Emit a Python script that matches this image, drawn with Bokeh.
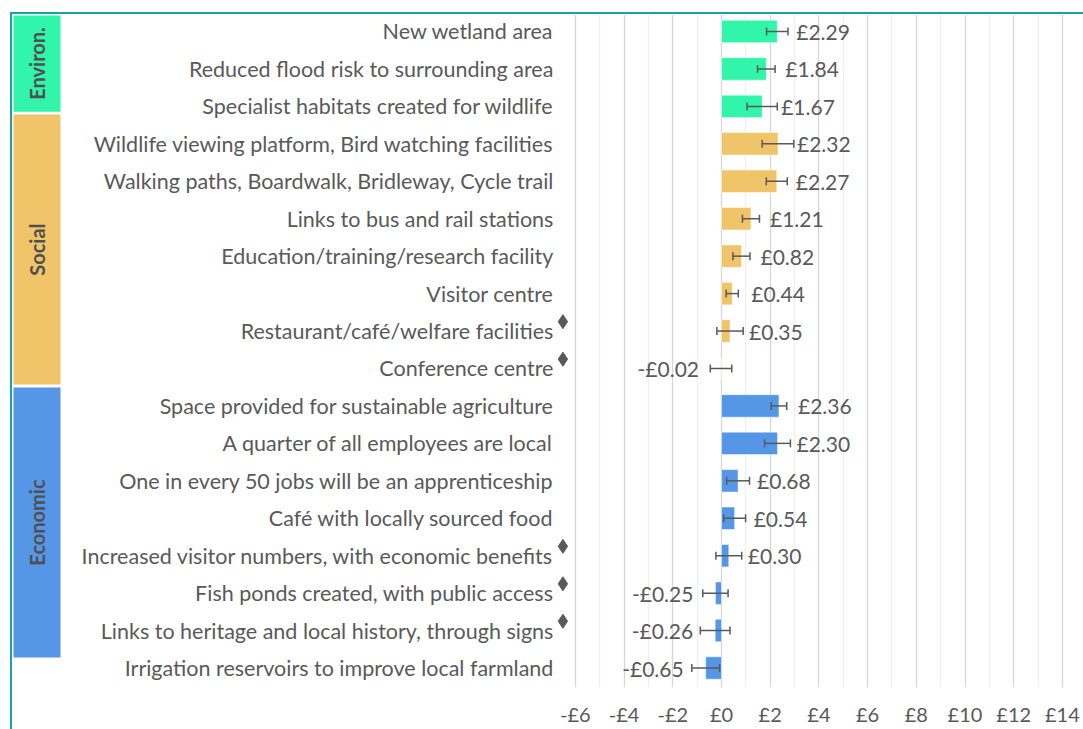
import numpy as np
from bokeh.plotting import figure
from bokeh.models import ColumnDataSource, Range1d, FixedTicker, Whisker, TeeHead, CDSView, BooleanFilter
from bokeh.layouts import column
from bokeh.core.properties import value
from bokeh.embed import file_html
from bokeh.resources import INLINE

# ---------------- data ----------------
categories = [
    "New wetland area",
    "Reduced flood risk to surrounding area",
    "Specialist habitats created for wildlife",
    "Wildlife viewing platform, Bird watching facilities",
    "Walking paths, Boardwalk, Bridleway, Cycle trail",
    "Links to bus and rail stations",
    "Education/training/research facility",
    "Visitor centre",
    "Restaurant/café/welfare facilities",
    "Conference centre",
    "Space provided for sustainable agriculture",
    "A quarter of all employees are local",
    "One in every 50 jobs will be an apprenticeship",
    "Café with locally sourced food",
    "Increased visitor numbers, with economic benefits",
    "Fish ponds created, with public access",
    "Links to heritage and local history, through signs",
    "Irrigation reservoirs to improve local farmland",
]
row_group = ["Environ."] * 3 + ["Social"] * 7 + ["Economic"] * 8
values = [2.29, 1.84, 1.67, 2.32, 2.27, 1.21, 0.82, 0.44, 0.35, -0.02,
          2.36, 2.30, 0.68, 0.54, 0.30, -0.25, -0.26, -0.65]
errors = [0.44, 0.36, 0.62, 0.65, 0.43, 0.35, 0.35, 0.25, 0.54, 0.44,
          0.32, 0.53, 0.47, 0.45, 0.53, 0.52, 0.61, 0.57]
flagged = [False, False, False, False, False, False, False, False, True, True,
           False, False, False, False, True, True, True, False]

group_names = ["Environ.", "Social", "Economic"]
group_colors = ["#30f5aa", "#f0c468", "#5596e6"]
# extent of each group band, in row units
group_band_start = [-0.43, 2.22, 9.51]
group_band_end = [2.14, 9.43, 16.72]

tick_values = [-6, -4, -2, 0, 2, 4, 6, 8, 10, 12, 14]
tick_labels = ["-£6", "-£4", "-£2", "£0", "£2", "£4", "£6", "£8", "£10", "£12", "£14"]

# ---------------- layout constants ----------------
PX_X = 24.35          # pixels per £1
X0 = 721              # page x of £0
X_LEFT = -6           # first grid line
FONT = "Lato"
GREY = "#595959"
FIG_X, FIG_Y = 12, 14
FIG_W, FIG_H = 1071, 715

n = len(categories)
rows = list(range(n))
color_of = dict(zip(group_names, group_colors))

src = ColumnDataSource(dict(
    y=rows,
    cat=categories,
    value=values,
    lo=[v - e for v, e in zip(values, errors)],
    hi=[v + e for v, e in zip(values, errors)],
    color=[color_of[g] for g in row_group],
    label=[("-£%.2f" % abs(v)) if v < 0 else ("£%.2f" % v) for v in values],
))

p = figure(width=FIG_W, height=FIG_H,
           x_range=Range1d(-(X0 - FIG_X) / PX_X, (FIG_X + FIG_W - X0) / PX_X),
           y_range=Range1d(17.52, -0.454),
           y_axis_location=None,
           toolbar_location=None, output_backend="svg",
           min_border_left=0, min_border_right=0, min_border_top=0, min_border_bottom=42)
p.outline_line_color = None
p.background_fill_color = "white"
p.border_fill_color = "white"

# grid
p.xaxis.ticker = FixedTicker(ticks=tick_values, minor_ticks=list(range(-5, 16, 2)))
p.xgrid.grid_line_color = "#d6d6d6"
p.xgrid.grid_line_width = 1.3
p.xgrid.minor_grid_line_color = "#efefef"
p.xgrid.minor_grid_line_width = 1.3
p.ygrid.grid_line_color = None

# x axis
p.xaxis.major_label_overrides = dict(zip(tick_values, tick_labels))
p.xaxis.axis_line_color = None
p.xaxis.major_tick_line_color = None
p.xaxis.minor_tick_line_color = None
p.xaxis.major_label_standoff = 8
p.xaxis.major_label_text_font = FONT
p.xaxis.major_label_text_font_size = "20px"
p.xaxis.major_label_text_color = GREY

# bars
p.hbar(y="y", left=0, right="value", height=0.6, fill_color="color",
       line_color="white", line_alpha=0.5, line_width=1, source=src)

# error bars
head = dict(size=8, line_color=GREY, line_width=1.5)
p.add_layout(Whisker(source=src, base="y", lower="lo", upper="hi", dimension="width",
                     line_color=GREY, line_width=1.5, level="overlay",
                     upper_head=TeeHead(**head), lower_head=TeeHead(**head)))

# value labels
pos = [v >= 0 for v in values]
neg = [v < 0 for v in values]
vtxt = dict(text_font=value(FONT), text_font_size="21px", text_color=GREY, text_baseline="middle")
p.text(x="value", y="y", text="label", source=src, view=CDSView(filter=BooleanFilter(pos)),
       text_align="left", x_offset=19, **vtxt)
p.text(x="value", y="y", text="label", source=src, view=CDSView(filter=BooleanFilter(neg)),
       text_align="right", x_offset=-22, **vtxt)

# category labels
p.text(x=X_LEFT, y="y", text="cat", source=src, text_align="right", x_offset=-22,
       text_font=value(FONT), text_font_size="21.5px", text_color=GREY, text_baseline="middle")

# diamonds after flagged labels
fsrc = ColumnDataSource(dict(y=[r - 0.25 for r, f in zip(rows, flagged) if f]))
p.scatter(x=X_LEFT - 12.5 / PX_X, y="y", source=fsrc, marker="diamond", size=14,
          color=GREY)

# group bands
BAND_L = -(X0 - 13) / PX_X
BAND_R = -(X0 - 60) / PX_X
gsrc = ColumnDataSource(dict(
    top=group_band_start, bottom=group_band_end,
    mid=[(a + b) / 2 for a, b in zip(group_band_start, group_band_end)],
    name=group_names, color=group_colors,
))
p.quad(left=BAND_L, right=BAND_R, top="top", bottom="bottom", fill_color="color",
       line_color=None, source=gsrc)
p.text(x=(BAND_L + BAND_R) / 2, y="mid", text="name", source=gsrc, angle=np.pi / 2,
       text_align="center", text_baseline="middle", text_font=value(FONT),
       text_font_style="bold", text_font_size="20px", text_color="#505050")

layout = column(p, margin=(12, 0, 0, 10),
                styles={"border-left": "2px solid #1aa3a3", "border-top": "2px solid #1aa3a3"})

open("out.html", "w").write(file_html(layout, INLINE))
